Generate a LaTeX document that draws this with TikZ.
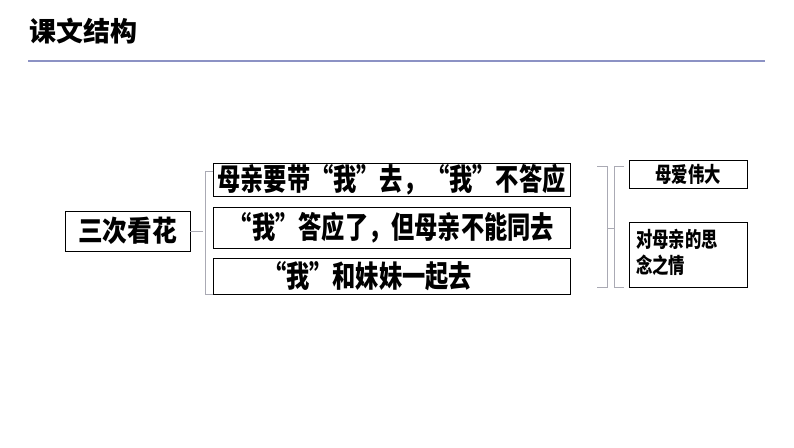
\documentclass[tikz,border=0pt]{standalone}
\usepackage{fontspec}
\newfontfamily\cjk{Noto Sans CJK SC}
\usetikzlibrary{positioning}
\definecolor{rulecol}{RGB}{140,146,196}
\definecolor{bracecol}{RGB}{170,170,180}
\newcommand{\narrow}[1]{\scalebox{0.86}[1.12]{#1}}
\begin{document}
\begin{tikzpicture}[x=1pt,y=-1pt,
box/.style={draw, rectangle, thick, inner sep=0pt, font=\cjk\bfseries},
bigtext/.style={font=\cjk\bfseries\fontsize{27}{30}\selectfont},
smalltext/.style={font=\cjk\bfseries\fontsize{19}{26}\selectfont},
brace/.style={draw=bracecol, line width=0.8pt}
]
\useasboundingbox (0,0) rectangle (794,447);

\node[anchor=west, font=\cjk\bfseries\fontsize{27}{30}\selectfont] (title) at (26,31) {课文结构};
\draw[rulecol, line width=1.2pt] (28,61) -- (765,61);

\node[box, minimum width=125pt, minimum height=40pt, font=\cjk\bfseries\fontsize{26}{28}\selectfont] (main) at (127.5,231) {\scalebox{0.95}[1.1]{三次看花}};

\node[box, bigtext, minimum width=357pt, minimum height=33pt] (stepa) at (391.5,179.5) {\narrow{母亲要带“我”去，“我”不答应}};
\node[box, bigtext, minimum width=357pt, minimum height=41pt] (stepb) at (391.5,227.5) {\narrow{“我”答应了，但母亲不能同去}};
\node[box, bigtext, minimum width=357pt, minimum height=36pt, text width=357pt] (stepc) at (391.5,276) {\hspace*{50pt}\narrow{“我”和妹妹一起去}};

\node[box, smalltext, minimum width=118pt, minimum height=28pt] (love) at (688,174) {\narrow{母爱伟大}};
\draw[thick] (629,222) rectangle (747,287);
\node[smalltext, anchor=north west, align=left, inner sep=0pt] (miss) at (636,229) {\narrow{对母亲的思}\\\narrow{念之情}};

% left brace
\draw[brace] (main.east) -- (203,231);
\draw[brace] (213,171) -- (205,171) -- (205,294) -- (213,294);
% right brackets
\draw[brace] (597,166) -- (607,166) -- (607,287) -- (597,287);
\draw[brace] (607,228) -- (614,228);
\draw[brace] (624,166) -- (614,166) -- (614,287) -- (624,287);
\end{tikzpicture}
\end{document}
